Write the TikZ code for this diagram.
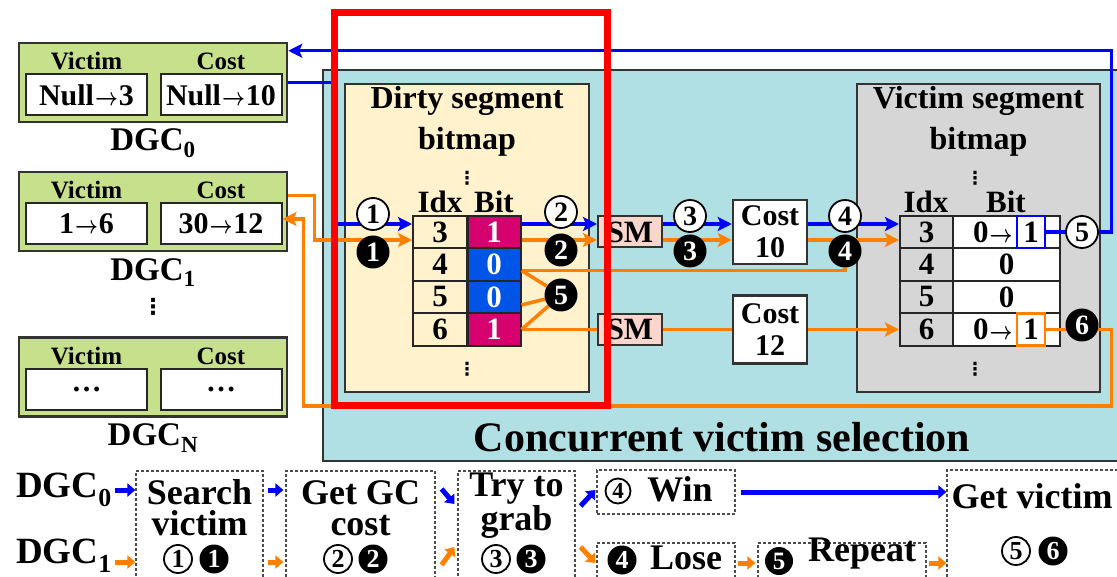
\documentclass[tikz,border=0pt]{standalone}
\usepackage{fontspec}
\setmainfont{Liberation Serif}
\newfontfamily\symfont{DejaVu Sans}
\usepackage{tikz}
\usetikzlibrary{arrows.meta,positioning,calc}
\definecolor{dgcGreen}{RGB}{198,224,140}
\definecolor{cvsTeal}{RGB}{176,224,228}
\definecolor{dirtyCream}{RGB}{255,242,204}
\definecolor{victimGray}{RGB}{214,214,214}
\definecolor{smPink}{RGB}{248,214,204}
\definecolor{bitMagenta}{RGB}{214,0,110}
\definecolor{bitBlue}{RGB}{0,84,232}
\definecolor{pathBlue}{RGB}{0,0,255}
\definecolor{pathOrange}{RGB}{255,128,0}
\definecolor{hiRed}{RGB}{255,0,0}
\newcommand{\bsize}[2]{\fontsize{#1}{#2}\selectfont\bfseries}
\newcommand{\tto}{\kern1pt\scalebox{0.8}[1]{\boldmath$\rightarrow$}\kern1pt}
\pgfdeclarelayer{front}
\pgfsetlayers{main,front}
\tikzstyle{dgcbox}=[rectangle, draw=black!80, line width=2.5pt, fill=dgcGreen, minimum width=268pt, minimum height=79pt, inner sep=0pt]
\tikzstyle{dgccell}=[rectangle, draw=black!85, line width=2pt, fill=white, minimum width=121pt, minimum height=41pt, inner sep=0pt, font=\bsize{30}{30}]
\tikzstyle{bitmapbox}=[rectangle, draw=black!80, line width=2.5pt, minimum width=244pt, minimum height=308pt, inner sep=0pt]
\tikzstyle{tabcell}=[rectangle, draw=black!85, line width=2pt, minimum height=32.5pt, inner sep=0pt, font=\bsize{31}{31}]
\tikzstyle{smbox}=[rectangle, draw=black!80, line width=2pt, fill=smPink, minimum width=64pt, minimum height=31pt, inner sep=0pt, font=\bsize{31}{31}]
\tikzstyle{costbox}=[rectangle, draw=black!80, line width=2.5pt, fill=white, minimum width=74pt, inner sep=0pt, align=center, font=\bsize{30}{32}]
\tikzstyle{wnum}=[circle, draw=black, line width=1.8pt, fill=white, inner sep=0pt, minimum size=32pt, font=\bsize{28}{28}]
\tikzstyle{bnum}=[circle, fill=black, text=white, inner sep=0pt, minimum size=33pt, font=\bsize{28}{28}]
\tikzstyle{dotsnode}=[inner sep=0pt, font=\symfont\fontsize{18}{18}\selectfont\bfseries]
\tikzstyle{titletext}=[inner sep=0pt, align=center, font=\bsize{32}{41}]
\tikzstyle{stepbox}=[rectangle, draw=black!70, densely dashed, line width=1.2pt, inner sep=0pt]
\tikzstyle{steptext}=[align=center, inner sep=0pt, font=\bsize{36}{31}]
\tikzstyle{bluelink}=[pathBlue, line width=3.5pt]
\tikzstyle{orangelink}=[pathOrange, line width=3.5pt]
\tikzstyle{bluearrow}=[bluelink, -{Stealth[length=14pt,width=14pt,inset=3pt]}]
\tikzstyle{orangearrow}=[orangelink, -{Stealth[length=14pt,width=14pt,inset=3pt]}]
\tikzstyle{stepblue}=[pathBlue, line width=5pt, -{Triangle[length=8pt,width=13pt]}]
\tikzstyle{steporange}=[pathOrange, line width=5pt, -{Triangle[length=8pt,width=13pt]}]

\begin{document}
\begin{tikzpicture}[x=1pt, y=-1pt]
    \useasboundingbox (0,0) rectangle (1117,577);

    % DGC registers
    \foreach \n/\y/\vv/\cc/\sub in {0/82.5/Null\tto3/Null\tto10/0, 1/211.5/1\tto6/30\tto12/1, n/377/…/…/N} {
      \node[dgcbox] (dgc\n) at (153, \y) {};
      \node[dgccell] (dgc\n v) at (86.5, \y+12.5) {\vv};
      \node[dgccell] (dgc\n c) at (221, \y+12.5) {\cc};
      \node[font=\bsize{25}{25}] (dgc\n vh) at (86.5, \y-21) {Victim};
      \node[font=\bsize{25}{25}] (dgc\n ch) at (221, \y-21) {Cost};
      \node[font=\bsize{33}{33}, inner sep=0pt] (dgc\n l) at (153, \y+61) {DGC\textsubscript{\sub}};
    }
    \node[dotsnode, font=\symfont\fontsize{22}{22}\selectfont\bfseries] (dgcdots) at (153, 307) {⋮};

    % Concurrent victim selection
    \node[rectangle, draw=black!80, line width=2.5pt, fill=cvsTeal, minimum width=807pt, minimum height=391pt, inner sep=0pt] (cvs) at (726.5, 265.5) {};
    \node[font=\bsize{42}{42}] (cvstitle) at (722, 437) {Concurrent victim selection};

    % Dirty segment bitmap
    \node[bitmapbox, fill=dirtyCream] (dirty) at (467, 238) {};
    \node[titletext] (dirtytitle) at (467, 121) {Dirty segment\\bitmap};
    \node[dotsnode] (dirtydots) at (467, 178) {⋮};
    \node[font=\bsize{31}{31}, inner sep=0pt] (dirtyidx) at (440, 202) {Idx};
    \node[font=\bsize{31}{31}, inner sep=0pt] (dirtybit) at (494, 202) {Bit};
    \foreach \i/\b/\c [count=\r from 0] in {3/1/bitMagenta, 4/0/bitBlue, 5/0/bitBlue, 6/1/bitMagenta} {
      \node[tabcell, minimum width=54pt] (di\i) at (440, 232+32.5*\r) {\i};
      \node[tabcell, minimum width=53pt, fill=\c, text=white] (db\i) at (494, 232+32.5*\r) {\b};
    }
    \node[dotsnode] (dirtydots2) at (467, 369) {⋮};

    % Victim segment bitmap
    \node[bitmapbox, fill=victimGray, minimum width=243pt] (victim) at (978.5, 238) {};
    \node[titletext] (victimtitle) at (978.5, 121) {Victim segment\\bitmap};
    \node[dotsnode] (victimdots) at (975, 178) {⋮};
    \node[font=\bsize{31}{31}, inner sep=0pt] (victimidx) at (926, 202) {Idx};
    \node[font=\bsize{31}{31}, inner sep=0pt] (victimbit) at (1006, 202) {Bit};
    \foreach \i/\b [count=\r from 0] in {3/{}, 4/0, 5/0, 6/{}} {
      \node[tabcell, minimum width=53pt, fill=victimGray] (vi\i) at (926.5, 232+32.5*\r) {\i};
      \node[tabcell, minimum width=107pt, fill=white] (vb\i) at (1006.5, 232+32.5*\r) {\b};
    }
    \node[rectangle, draw=pathBlue, line width=2.5pt, minimum width=28pt, minimum height=32pt, inner sep=0pt, font=\bsize{31}{31}] (vb3box) at (1031, 232) {1};
    \node[font=\bsize{31}{31}, inner sep=0pt, left=2pt of vb3box] (vb3old) {0\tto};
    \node[rectangle, draw=pathOrange, line width=2.5pt, minimum width=28pt, minimum height=32pt, inner sep=0pt, font=\bsize{31}{31}] (vb6box) at (1031, 329.5) {1};
    \node[font=\bsize{31}{31}, inner sep=0pt, left=2pt of vb6box] (vb6old) {0\tto};
    \node[dotsnode] (victimdots2) at (975, 369) {⋮};

    % SM and cost
    \node[smbox] (sm1) at (630, 232) {SM};
    \node[smbox] (sm2) at (630, 329.5) {SM};
    \node[costbox, minimum height=64pt] (cost10) at (770, 232) {Cost\\10};
    \node[costbox, minimum height=68pt] (cost12) at (770, 329.5) {Cost\\12};

    % step numbers
    \begin{pgfonlayer}{front}
      \node[wnum] (n1w) at (373, 214) {1};
      \node[bnum] (n1b) at (373, 252) {1};
      \node[wnum] (n2w) at (561, 212) {2};
      \node[bnum] (n2b) at (561, 250) {2};
      \node[wnum] (n3w) at (690, 216) {3};
      \node[bnum] (n3b) at (690, 251) {3};
      \node[wnum] (n4w) at (845, 216) {4};
      \node[bnum] (n4b) at (845, 251) {4};
      \node[bnum] (n5b) at (561, 295) {5};
      \node[wnum] (n5w) at (1082, 232) {5};
      \node[bnum] (n6b) at (1082, 325) {6};
    \end{pgfonlayer}

    % DGC0 path (blue)
    \draw[bluearrow] (dgc0.east) -- ++(47,0) |- ($(di3.west)+(0,-8)$);
    \draw[bluearrow] ($(db3.east)+(0,-8)$) -- ($(sm1.west)+(0,-8)$);
    \draw[bluearrow] ($(sm1.east)+(0,-8)$) -- ($(cost10.west)+(0,-8)$);
    \draw[bluearrow] ($(cost10.east)+(0,-8)$) -- ($(vi3.west)+(0,-8)$);
    \draw[bluearrow] (vb3box.east) -- ++(65,0) |- ($(dgc0.north east)+(0,9)$);

    % DGC1 path (orange)
    \draw[orangearrow] ($(dgc1.east)+(0,-16)$) -- ++(26,0) |- ($(di3.west)+(0,8)$);
    \draw[orangearrow] ($(db3.east)+(0,8)$) -- ($(sm1.west)+(0,8)$);
    \draw[orangearrow] ($(sm1.east)+(0,8)$) -- ($(cost10.west)+(0,8)$);
    \draw[orangearrow] ($(cost10.east)+(0,8)$) -- ($(vi3.west)+(0,8)$);
    \draw[orangelink] (n4b) |- ($(db4.east)+(0,6)$);
    \draw[orangelink] ($(db4.east)+(0,6)$) -- (n5b) -- ($(db5.east)+(0,8)$) -- (n5b) -- (db6.east);
    \draw[orangelink] (db6.east) -- (sm2.west);
    \draw[orangelink] (sm2.east) -- (cost12.west);
    \draw[orangearrow] (cost12.east) -- (vi6.west);
    \draw[orangearrow] (vb6box.east) -- ++(65,0) -- ++(0,76.5) -| ($(dgc1c.east)+(21,-5)$) -- ($(dgc1c.east)+(0,-5)$);

    % Flow below
    \node[font=\bsize{37}{37}] (flow0) at (64, 490) {DGC\textsubscript{0}};
    \node[font=\bsize{37}{37}] (flow1) at (64, 556) {DGC\textsubscript{1}};

    \node[stepbox, minimum width=127pt, minimum height=109pt] (stepsearch) at (199.5, 525.5) {};
    \node[steptext] (stepsearcht) at (199.5, 508) {Search\\victim};
    \node[wnum, minimum size=28pt, font=\bsize{26}{26}] (s1w) at (178, 559) {1};
    \node[bnum, minimum size=29pt, font=\bsize{26}{26}] (s1b) at (214, 559) {1};

    \node[stepbox, minimum width=149pt, minimum height=109pt] (stepcost) at (360.5, 525.5) {};
    \node[steptext] (stepcostt) at (360.5, 508) {Get GC\\cost};
    \node[wnum, minimum size=28pt, font=\bsize{26}{26}] (s2w) at (338, 559) {2};
    \node[bnum, minimum size=29pt, font=\bsize{26}{26}] (s2b) at (373, 559) {2};

    \node[stepbox, minimum width=117pt, minimum height=109pt] (stepgrab) at (516.5, 525.5) {};
    \node[steptext] (stepgrabt) at (516.5, 506) {Try to\\grab};
    \node[wnum, minimum size=28pt, font=\bsize{26}{26}] (s3w) at (496, 559) {3};
    \node[bnum, minimum size=29pt, font=\bsize{26}{26}] (s3b) at (531, 559) {3};

    \node[stepbox, minimum width=138pt, minimum height=44pt] (stepwin) at (666, 492) {};
    \node[wnum, minimum size=25pt, font=\bsize{23}{23}] (s4w) at (618, 491) {4};
    \node[steptext] (stepwint) at (680, 489) {Win};

    \node[stepbox, minimum width=138pt, minimum height=37pt] (steplose) at (666, 561.5) {};
    \node[bnum, minimum size=29pt, font=\bsize{26}{26}] (s4b) at (622, 560) {4};
    \node[steptext] (steploset) at (686, 558) {Lose};

    \node[stepbox, minimum width=168pt, minimum height=37pt] (steprepeat) at (842, 561.5) {};
    \node[bnum, minimum size=28pt, font=\bsize{25}{25}] (s5b) at (779, 561) {5};
    \node[steptext] (steprepeatt) at (862, 554) {Repeat};

    \node[stepbox, minimum width=178pt, minimum height=110pt] (stepget) at (1036, 525) {};
    \node[steptext] (stepgett) at (1032, 496) {Get victim};
    \node[wnum, minimum size=28pt, font=\bsize{26}{26}] (s5w) at (1016, 551) {5};
    \node[bnum, minimum size=29pt, font=\bsize{26}{26}] (s6b) at (1053, 551) {6};

    \draw[stepblue] (flow0.east) -- (stepsearch.west |- flow0);
    \draw[steporange] ($(flow1.east)+(0,6)$) -- ($(stepsearch.west |- flow1)+(0,6)$);
    \draw[stepblue] ($(stepsearch.east |- flow0)+(4,0)$) -- ($(stepcost.west |- flow0)+(-2,0)$);
    \draw[steporange] ($(stepsearch.east |- flow1)+(4,6)$) -- ($(stepcost.west |- flow1)+(-2,6)$);
    \draw[stepblue] ($(stepcost.east |- flow0)+(6,-1)$) -- ($(stepgrab.west |- flow0)+(-3,14)$);
    \draw[steporange] ($(stepcost.east |- flow1)+(6,9)$) -- ($(stepgrab.west |- flow1)+(-3,-9)$);
    \draw[stepblue] ($(stepgrab.east |- flow0)+(5,16)$) -- ($(stepwin.west)+(-1,-2)$);
    \draw[steporange] ($(stepgrab.east |- flow1)+(5,-9)$) -- ($(steplose.west |- flow1)+(-1,7)$);
    \draw[stepblue] ($(stepwin.east)+(5,0)$) -- (stepget.west |- stepwin);
    \draw[steporange] ($(steplose.east |- flow1)+(2,7)$) -- ($(steprepeat.west |- flow1)+(-2,7)$);
    \draw[steporange] ($(steprepeat.east |- flow1)+(2,7)$) -- ($(stepget.west |- flow1)+(0,7)$);

    % highlight
    \begin{pgfonlayer}{front}
      \draw[hiRed, line width=7pt] (334.5, 12.5) rectangle (607, 405);
    \end{pgfonlayer}
\end{tikzpicture}
\end{document}
